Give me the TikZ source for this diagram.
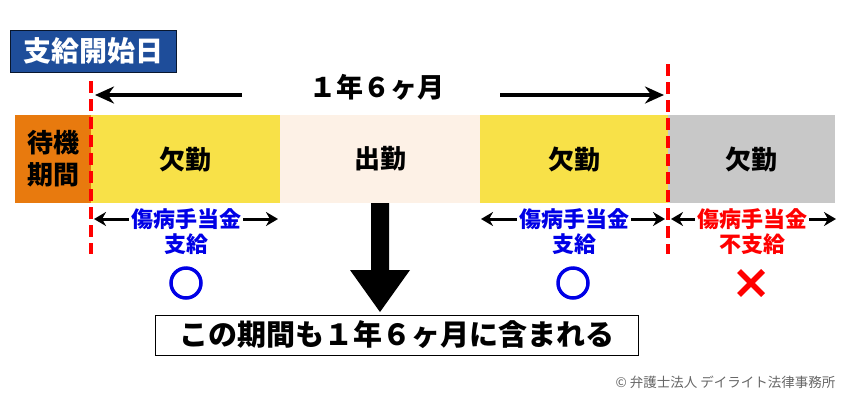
\documentclass[tikz,border=0pt]{standalone}
\usepackage{fontspec}
\setmainfont{Noto Sans CJK JP}
\usetikzlibrary{arrows.meta,calc}
\definecolor{cOrange}{RGB}{232,122,14}
\definecolor{cYellow}{RGB}{248,225,72}
\definecolor{cPeach}{RGB}{253,241,230}
\definecolor{cGray}{RGB}{200,200,200}
\definecolor{cTitle}{RGB}{30,77,154}
\definecolor{cBlue}{RGB}{0,0,230}
\definecolor{cRed}{RGB}{255,0,0}
\tikzset{
  seg/.style={draw=none,minimum height=88pt,inner sep=0pt,font=\bfseries\fontsize{26}{28}\selectfont},
  blu/.style={text=cBlue,font=\bfseries\fontsize{22}{24}\selectfont,inner sep=2pt},
  redl/.style={text=cRed,font=\bfseries\fontsize{22}{24}\selectfont,inner sep=2pt},
  darr/.style={-{Stealth[length=12pt,width=14pt]},line width=3pt},
  topa/.style={-{Stealth[length=19pt,width=17pt]},line width=4pt},
  rdash/.style={cRed,line width=3.5pt,dash pattern=on 12pt off 6pt},
}
\begin{document}
\begin{tikzpicture}[x=1pt,y=-1pt]
\useasboundingbox (0,0) rectangle (850,400);
% title
\node[fill=cTitle,draw=black!70!cTitle,line width=0.8pt,text=white,font=\bfseries\fontsize{28}{30}\selectfont,minimum width=166pt,minimum height=42pt,inner sep=0pt] (title) at (93,51) {支給開始日};
% segments
\node[seg,fill=cOrange,minimum width=76pt,align=center,font=\bfseries\fontsize{26}{32}\selectfont] (wait) at (53,159) {待機\\期間};
\node[seg,fill=cYellow,minimum width=189pt] (s1) at (185.5,159) {欠勤};
\node[seg,fill=cPeach,minimum width=200pt] (s2) at (380,159) {出勤};
\node[seg,fill=cYellow,minimum width=188pt] (s3) at (574,159) {欠勤};
\node[seg,fill=cGray,minimum width=167pt] (s4) at (751.5,159) {欠勤};
% dashed lines
\coordinate (d1t) at (91,81); \coordinate (d1b) at (91,254);
\coordinate (d2t) at (668,64); \coordinate (d2b) at (668,254);
\draw[rdash] (d1t) -- (d1b);
\draw[rdash] (d2t) -- (d2b);
% top label
\node[font=\bfseries\fontsize{27}{29}\selectfont] (span) at (377,87) {１年６ヶ月};
\coordinate (a1s) at (242,95); \coordinate (a1e) at (95,95);
\coordinate (a2s) at (500,95); \coordinate (a2e) at (664,95);
\draw[topa] (a1s) -- (a1e);
\draw[topa] (a2s) -- (a2e);
% benefit labels
\node[blu] (b1) at (186,219) {傷病手当金};
\node[blu] (b1b) at (186,244) {支給};
\node[blu] (b3) at (574,219) {傷病手当金};
\node[blu] (b3b) at (574,244) {支給};
\node[redl] (b4) at (752,219) {傷病手当金};
\node[redl] (b4b) at (752,244) {不支給};
\coordinate (l1) at (94,219); \coordinate (r1) at (278,219);
\coordinate (l3) at (481,219); \coordinate (r3) at (665,219);
\coordinate (l4) at (671,219); \coordinate (r4) at (836,219);
\draw[darr] (b1.west) -- (l1);
\draw[darr] (b1.east) -- (r1);
\draw[darr] (b3.west) -- (l3);
\draw[darr] (b3.east) -- (r3);
\draw[darr] (b4.west) -- (l4);
\draw[darr] (b4.east) -- (r4);
% marks
\node[draw=cBlue,line width=3.5pt,circle,minimum size=30pt,inner sep=0pt] (o1) at (186,283) {};
\node[draw=cBlue,line width=3.5pt,circle,minimum size=30pt,inner sep=0pt] (o3) at (573,283) {};
\coordinate (x4) at (751,283);
\draw[cRed,line width=5.5pt] ($(x4)+(-12,-12)$) -- ($(x4)+(12,12)$) ($(x4)+(12,-12)$) -- ($(x4)+(-12,12)$);
% box and big arrow
\node[draw=black,line width=0.8pt,fill=white,minimum width=483pt,minimum height=40pt,inner sep=0pt,font=\bfseries\fontsize{29}{31}\selectfont] (box) at (396.5,335) {この期間も１年６ヶ月に含まれる};
\fill[black] (371,203) -- (389,203) -- (389,270) -- (410,270) -- (380,312) -- (350,270) -- (371,270) -- cycle;
% copyright
\node[text=black!60,font=\fontsize{13.5}{15}\selectfont,anchor=east] (copy) at (839,382) {© 弁護士法人 デイライト法律事務所};
\end{tikzpicture}
\end{document}
